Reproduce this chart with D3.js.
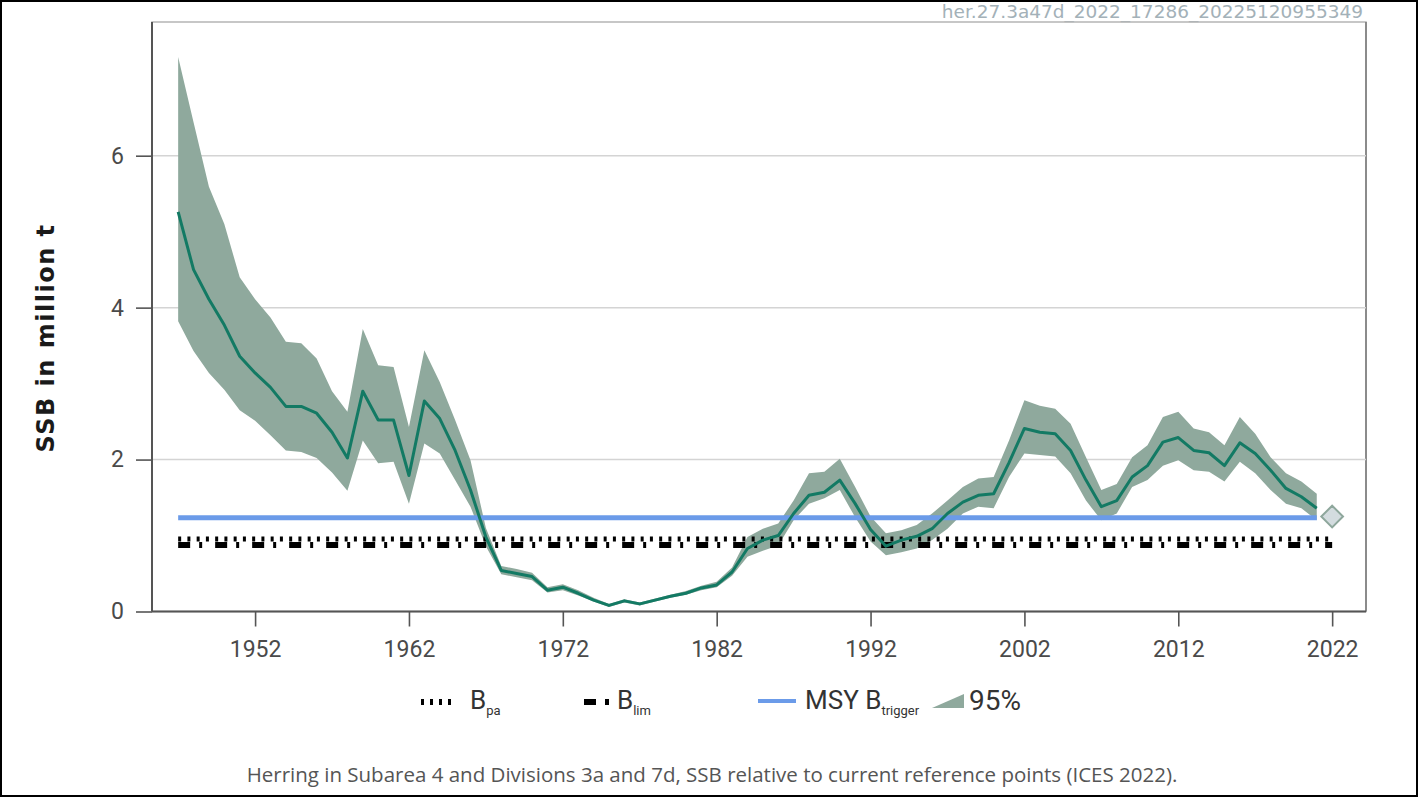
<!DOCTYPE html>
<html>
<head>
<meta charset="utf-8">
<script src="https://cdn.jsdelivr.net/npm/d3@7"></script>
<style>
  body { margin: 0; background: #fff; }
  svg { display: block; }
</style>
</head>
<body>
<svg id="chart" width="1419" height="798"></svg>
<script>
// Herring 3a47d — spawning-stock biomass (million t) with 95% interval
const years = [1947,1948,1949,1950,1951,1952,1953,1954,1955,1956,1957,1958,1959,1960,1961,1962,1963,1964,1965,1966,
  1967,1968,1969,1970,1971,1972,1973,1974,1975,1976,1977,1978,1979,1980,1981,1982,1983,1984,1985,1986,
  1987,1988,1989,1990,1991,1992,1993,1994,1995,1996,1997,1998,1999,2000,2001,2002,2003,2004,2005,2006,
  2007,2008,2009,2010,2011,2012,2013,2014,2015,2016,2017,2018,2019,2020,2021];

const ssb = [5.26,4.50,4.11,3.77,3.36,3.14,2.95,2.70,2.70,2.61,2.36,2.02,2.90,2.52,2.52,1.79,2.77,2.54,2.12,1.60,
  0.98,0.54,0.50,0.46,0.28,0.32,0.24,0.15,0.08,0.14,0.10,0.15,0.20,0.24,0.31,0.35,0.52,0.83,0.94,1.00,
  1.29,1.53,1.57,1.73,1.42,1.08,0.86,0.94,0.99,1.09,1.29,1.44,1.53,1.55,1.96,2.41,2.36,2.34,2.12,1.73,
  1.38,1.46,1.77,1.92,2.23,2.29,2.12,2.09,1.92,2.22,2.08,1.86,1.62,1.51,1.36];

const ssbHigh = [7.30,6.44,5.59,5.10,4.40,4.11,3.87,3.55,3.53,3.33,2.90,2.63,3.72,3.24,3.22,2.43,3.44,3.02,2.52,1.99,
  1.10,0.60,0.56,0.51,0.32,0.36,0.28,0.18,0.10,0.16,0.12,0.17,0.22,0.27,0.34,0.39,0.58,0.98,1.09,1.16,
  1.46,1.82,1.84,2.01,1.64,1.25,1.03,1.07,1.14,1.29,1.46,1.64,1.75,1.77,2.25,2.78,2.71,2.67,2.47,2.03,
  1.60,1.68,2.03,2.19,2.56,2.63,2.41,2.36,2.19,2.56,2.34,2.03,1.82,1.71,1.55];

const ssbLow = [3.82,3.43,3.14,2.92,2.65,2.51,2.32,2.12,2.10,2.02,1.83,1.59,2.25,1.95,1.97,1.42,2.21,2.08,1.73,1.38,
  0.86,0.49,0.45,0.41,0.25,0.28,0.21,0.13,0.06,0.12,0.08,0.13,0.18,0.22,0.28,0.32,0.47,0.72,0.80,0.87,
  1.20,1.42,1.49,1.60,1.24,0.92,0.74,0.78,0.83,0.94,1.09,1.29,1.38,1.36,1.77,2.08,2.06,2.04,1.82,1.46,
  1.20,1.29,1.64,1.73,1.92,1.99,1.86,1.84,1.71,1.97,1.82,1.60,1.42,1.36,1.20];

// Intermediate-year SSB estimate
const ssbIntermediate = { year: 2022, value: 1.25 };

// Reference points (million t)
const Blim = 0.874;
const Bpa = 0.956;
const MSYBtrigger = 1.233;

const xTicks = [1952, 1962, 1972, 1982, 1992, 2002, 2012, 2022];
const yTicks = [0, 2, 4, 6];

const caption = "Herring in Subarea 4 and Divisions 3a and 7d, SSB relative to current reference points (ICES 2022).";
const stamp = "her.27.3a47d_2022_17286_20225120955349";

const svg = d3.select("#chart");
const W = 1419, H = 798;

const plot = { left: 152, right: 1366, top: 22, bottom: 611.5 };

const x = d3.scaleLinear().domain([1945.3, 2024.2]).range([plot.left, plot.right]);
const y = d3.scaleLinear().domain([0, 7.76]).range([plot.bottom, plot.top]);

const rows = years.map((yr, i) => ({ yr, v: ssb[i], lo: ssbLow[i], hi: ssbHigh[i] }));

// stamp text, top right
svg.append("text").attr("x", 1363).attr("y", 18).attr("text-anchor", "end")
  .attr("font-family", "'DejaVu Sans', sans-serif").attr("font-size", 18.5)
  .attr("fill", "#a3b1b8").text(stamp);

// outer frame
svg.append("rect").attr("x", 1).attr("y", 1).attr("width", W - 3).attr("height", H - 3)
  .attr("fill", "none").attr("stroke", "#000").attr("stroke-width", 2);

// panel border
svg.append("rect").attr("x", plot.left).attr("y", plot.top)
  .attr("width", plot.right - plot.left).attr("height", plot.bottom - plot.top)
  .attr("fill", "none").attr("stroke", "#b5b5b5").attr("stroke-width", 1.5);
svg.append("line").attr("x1", plot.right).attr("x2", plot.right).attr("y1", plot.top).attr("y2", plot.bottom)
  .attr("stroke", "#777").attr("stroke-width", 1.5);

// horizontal grid
svg.append("g").selectAll("line").data(yTicks.filter(t => t > 0)).join("line")
  .attr("x1", plot.left).attr("x2", plot.right)
  .attr("y1", d => y(d)).attr("y2", d => y(d))
  .attr("stroke", "#d4d4d4").attr("stroke-width", 1.5);

// axes
const axisFont = "Roboto, 'DejaVu Sans', sans-serif";
const gx = svg.append("g").attr("transform", `translate(0,${plot.bottom})`)
  .call(d3.axisBottom(x).tickValues(xTicks).tickFormat(d3.format("d")).tickSize(15).tickPadding(14).tickSizeOuter(0));
const gy = svg.append("g").attr("transform", `translate(${plot.left},0)`)
  .call(d3.axisLeft(y).tickValues(yTicks).tickSize(16).tickPadding(12).tickSizeOuter(0));
[gx, gy].forEach(g => {
  g.select(".domain").attr("stroke", "#555").attr("stroke-width", 2);
  g.selectAll(".tick line").attr("stroke", "#555").attr("stroke-width", 1.6);
  g.selectAll(".tick text").attr("font-family", axisFont).attr("font-size", 23).attr("fill", "#4a4a4a");
});
gx.select(".domain").attr("d", `M${plot.left},0H${plot.right}`);
gy.select(".domain").attr("d", `M0,${plot.bottom}V${plot.top}`);

// y label
svg.append("text")
  .attr("transform", `translate(54,338) rotate(-90)`)
  .attr("text-anchor", "middle")
  .attr("font-family", "'DejaVu Sans', sans-serif").attr("font-weight", "bold")
  .attr("font-size", 24).attr("letter-spacing", 1.5).attr("fill", "#1a1a1a").text("SSB in million t");

// 95% band
const bandFill = "#8fa99d";
svg.append("path").datum(rows)
  .attr("d", d3.area().x(d => x(d.yr)).y0(d => y(d.lo)).y1(d => y(d.hi)))
  .attr("fill", bandFill);

// reference lines
const refX0 = x(years[0]);
svg.append("line").attr("x1", refX0).attr("x2", x(ssbIntermediate.year))
  .attr("y1", y(Bpa)).attr("y2", y(Bpa))
  .attr("stroke", "#000").attr("stroke-width", 5).attr("stroke-dasharray", "3,6.25");
svg.append("line").attr("x1", refX0).attr("x2", x(ssbIntermediate.year))
  .attr("y1", y(Blim)).attr("y2", y(Blim))
  .attr("stroke", "#000").attr("stroke-width", 6).attr("stroke-dasharray", "12,9,3,13");
svg.append("line").attr("x1", refX0).attr("x2", x(years[years.length - 1]))
  .attr("y1", y(MSYBtrigger)).attr("y2", y(MSYBtrigger))
  .attr("stroke", "#6b9be9").attr("stroke-width", 5);

// SSB line
svg.append("path").datum(rows)
  .attr("d", d3.line().x(d => x(d.yr)).y(d => y(d.v)))
  .attr("fill", "none").attr("stroke", "#137a64").attr("stroke-width", 3).attr("stroke-linejoin", "round");

// intermediate-year point
svg.append("path")
  .attr("d", d3.symbol().type(d3.symbolDiamond2).size(300)())
  .attr("transform", `translate(${x(ssbIntermediate.year)},${y(ssbIntermediate.value)})`)
  .attr("fill", "#d3dcdf").attr("stroke", "#8ea79c").attr("stroke-width", 2);

// legend
const lg = svg.append("g").attr("font-family", axisFont).attr("fill", "#333");
const ly = 700;
lg.append("line").attr("x1", 421).attr("x2", 452).attr("y1", ly + 2).attr("y2", ly + 2)
  .attr("stroke", "#000").attr("stroke-width", 6).attr("stroke-dasharray", "3,6");
const t1 = lg.append("text").attr("x", 470).attr("y", ly + 9).attr("font-size", 26);
t1.append("tspan").text("B");
t1.append("tspan").attr("font-size", 13).attr("dy", 6).text("pa");

lg.append("line").attr("x1", 584).attr("x2", 612).attr("y1", ly + 2).attr("y2", ly + 2)
  .attr("stroke", "#000").attr("stroke-width", 6).attr("stroke-dasharray", "12,9,4,9");
const t2 = lg.append("text").attr("x", 617).attr("y", ly + 9).attr("font-size", 26);
t2.append("tspan").text("B");
t2.append("tspan").attr("font-size", 13).attr("dy", 6).text("lim");

lg.append("line").attr("x1", 758).attr("x2", 796).attr("y1", ly + 1).attr("y2", ly + 1)
  .attr("stroke", "#6b9be9").attr("stroke-width", 4);
const t3 = lg.append("text").attr("x", 805).attr("y", ly + 9).attr("font-size", 26);
t3.append("tspan").text("MSY B");
t3.append("tspan").attr("font-size", 13).attr("dy", 6).text("trigger");

lg.append("path").attr("d", `M932,${ly + 8} L964,${ly - 6} L964,${ly + 8} Z`).attr("fill", bandFill);
lg.append("text").attr("x", 969).attr("y", ly + 10).attr("font-size", 28).text("95%");

// caption
svg.append("text").attr("x", 712).attr("y", 782).attr("text-anchor", "middle")
  .attr("font-family", "'Open Sans', sans-serif").attr("font-size", 20.5).attr("fill", "#555")
  .text(caption);
</script>
</body>
</html>
